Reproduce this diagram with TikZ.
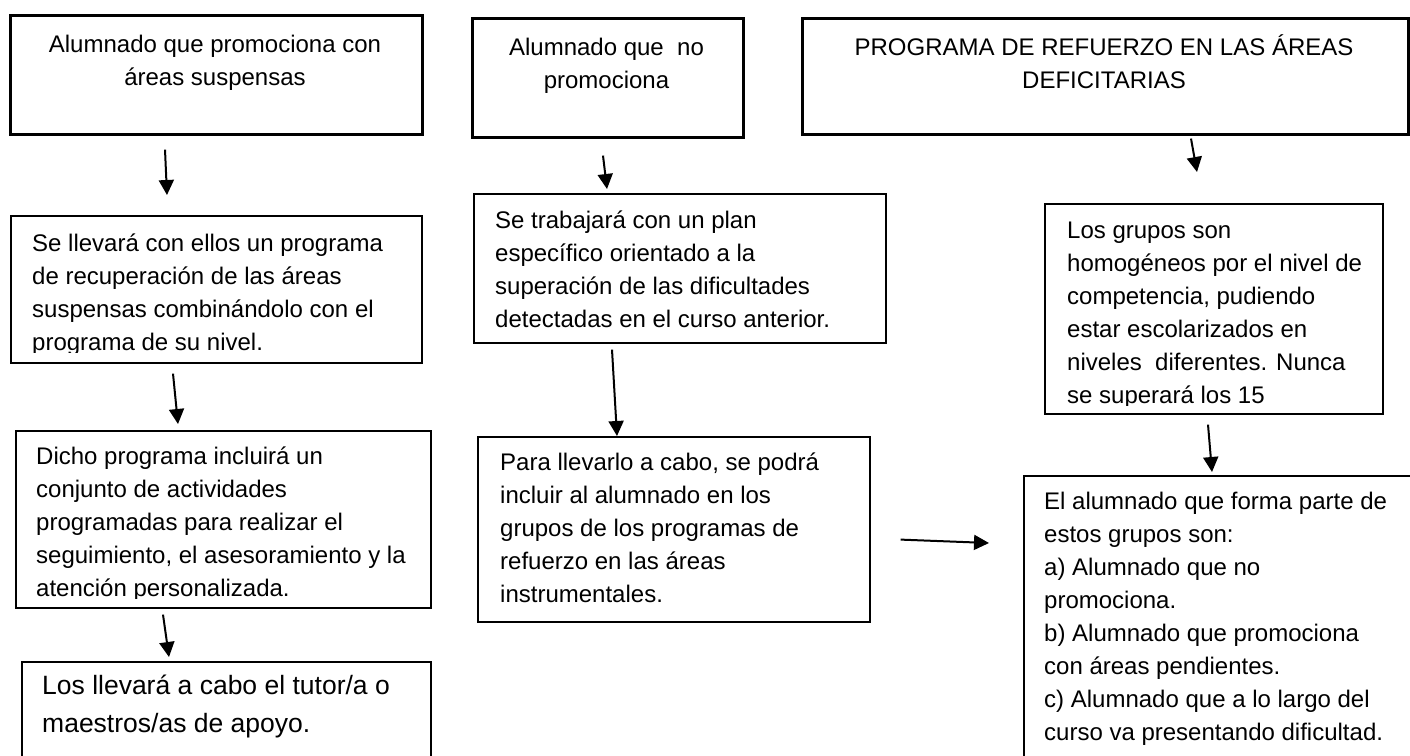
\documentclass[tikz,border=0pt]{standalone}
\usepackage{fontspec}
\setmainfont{Liberation Sans}
\usetikzlibrary{arrows.meta}

\begin{document}
\begin{tikzpicture}[x=1pt, y=-1pt,
    titlebox/.style={draw, line width=2.6pt, inner sep=0pt, anchor=north west},
    plainbox/.style={draw, line width=1.6pt, inner sep=0pt, anchor=north west},
    txt/.style={inner sep=0pt, align=left, anchor=north west, font=\fontsize{24}{33}\selectfont},
    ctxt/.style={inner sep=0pt, align=center, anchor=north, font=\fontsize{24}{33}\selectfont},
    arr/.style={-{Triangle[length=15pt,width=15pt]}, line width=2pt}]
    \useasboundingbox (0,0) rectangle (1410,755);
    \clip (0,0) rectangle (1410,755);

    \node[titlebox, minimum width=412pt, minimum height=119pt] (a1) at (9,14) {};
    \node[plainbox, minimum width=411pt, minimum height=147pt] (a2) at (10,215) {};
    \node[plainbox, minimum width=415pt, minimum height=177pt] (a3) at (15,430) {};
    \node[plainbox, minimum width=409pt, minimum height=114pt] (a4) at (21,661) {};
    \node[titlebox, minimum width=271pt, minimum height=119pt] (b1) at (471,17) {};
    \node[plainbox, minimum width=412pt, minimum height=149pt] (b2) at (473,193) {};
    \node[plainbox, minimum width=392pt, minimum height=185pt] (b3) at (477,436) {};
    \node[titlebox, minimum width=606pt, minimum height=116pt] (c1) at (801,17) {};
    \node[plainbox, minimum width=338pt, minimum height=210pt] (c2) at (1044,203) {};
    \node[plainbox, minimum width=402pt, minimum height=300pt] (c3) at (1023,475) {};

    \node[ctxt] (a1t) at (215,29) {\strut Alumnado que promociona con\\áreas suspensas};
    \node[ctxt] (b1t) at (606.5,32) {\strut Alumnado que\ \ no\\promociona};
    \node[ctxt] (c1t) at (1104,32) {\strut PROGRAMA DE REFUERZO EN LAS ÁREAS\\DEFICITARIAS};

    \begin{scope}
      \clip (10,215) rectangle (421,352);
      \node[txt] (a2t) at (32,228) {\strut Se llevará con ellos un programa\\de recuperación de las áreas\\suspensas combinándolo con el\\programa de su nivel.};
    \end{scope}
    \begin{scope}
      \clip (15,430) rectangle (430,598);
      \node[txt] (a3t) at (36,441) {\strut Dicho programa incluirá un\\conjunto de actividades\\programadas para realizar el\\seguimiento, el asesoramiento y la\\atención personalizada.};
    \end{scope}
    \node[txt, font=\fontsize{26.5}{38}\selectfont] (a4t) at (42,667.4) {\strut Los llevará a cabo el tutor/a o\\maestros/as de apoyo.};

    \node[txt] (b2t) at (495,205) {\strut Se trabajará con un plan\\específico orientado a la\\superación de las dificultades\\detectadas en el curso anterior.};
    \node[txt] (b3t) at (500,447) {\strut Para llevarlo a cabo, se podrá\\incluir al alumnado en los\\grupos de los programas de\\refuerzo en las áreas\\instrumentales.};

    \begin{scope}
      \clip (1044,203) rectangle (1382,405);
      \node[txt] (c2t) at (1067,215) {\strut Los grupos son\\homogéneos por el nivel de\\competencia, pudiendo\\estar escolarizados en\\niveles\ \ diferentes. Nunca\\se superará los 15};
    \end{scope}
    \node[txt] (c3t) at (1044,486) {\strut El alumnado que forma parte de\\estos grupos son:\\a) Alumnado que no\\promociona.\\b) Alumnado que promociona\\con áreas pendientes.\\c) Alumnado que a lo largo del\\curso va presentando dificultad.};

    \draw[arr] ([shift={(156,14)}]a1.south west) -- ([shift={(157,-20)}]a2.north west);
    \draw[arr] ([shift={(163,10)}]a2.south west) -- ([shift={(163,-6)}]a3.north west);
    \draw[arr] ([shift={(148,6)}]a3.south west) -- ([shift={(148,-4)}]a4.north west);
    \draw[arr] ([shift={(132,17)}]b1.south west) -- ([shift={(134,-4)}]b2.north west);
    \draw[arr] ([shift={(139,6)}]b2.south west) -- ([shift={(140,0)}]b3.north west);
    \draw[arr] ([shift={(390,3)}]c1.south west) -- ([shift={(153,-31)}]c2.north west);
    \draw[arr] ([shift={(164,10)}]c2.south west) -- ([shift={(189,-3)}]c3.north west);
    \draw[arr] ([shift={(30,-83)}]b3.south east) -- ([shift={(-34,68)}]c3.north west);
  \end{tikzpicture}
\end{document}
